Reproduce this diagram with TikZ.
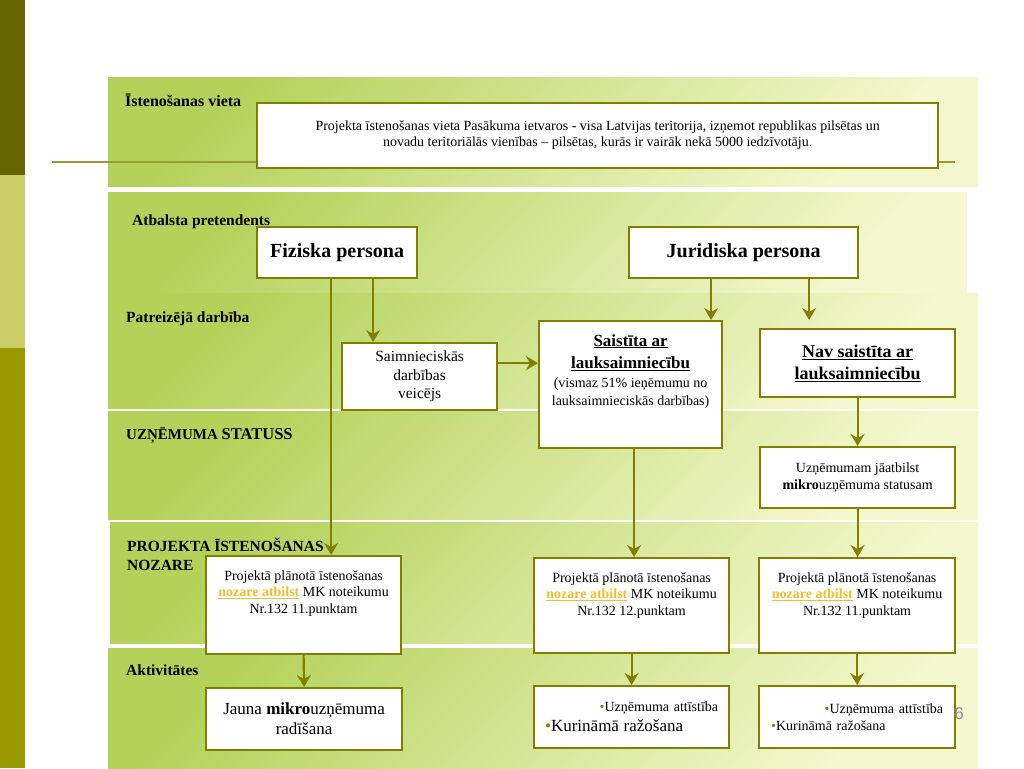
\documentclass[tikz,border=0pt]{standalone}
\usepackage{fontspec}
\setmainfont{Liberation Serif}
\newfontfamily\numfont{Liberation Sans}
\usepackage{tikz}
\usetikzlibrary{arrows.meta,positioning,calc}
\definecolor{sidedark}{HTML}{666600}
\definecolor{sidelight}{HTML}{CCCC66}
\definecolor{sideolive}{HTML}{999900}
\definecolor{bandgreen}{HTML}{B4D25A}
\definecolor{bandpale}{HTML}{F4F8CE}
\definecolor{edge}{HTML}{808000}
\definecolor{rulecol}{HTML}{9A9A30}
\definecolor{gold}{HTML}{F2BF2A}
\definecolor{pagegray}{HTML}{8C8C8C}
\newcommand{\fsz}[2]{\fontsize{#1}{#2}\selectfont}
\newcommand{\goldul}[1]{\textcolor{gold}{\underline{\textbf{#1}}}}
\newcommand{\dotb}{\textcolor{edge}{\textbullet}}

\begin{document}
\begin{tikzpicture}[x=1pt, y=-1pt,
  band/.style={top color=bandgreen, bottom color=bandpale, shading angle=45},
  bandlabel/.style={anchor=base west, inner sep=0pt, font=\bfseries\fsz{15.5}{19}, align=left},
  box/.style={rectangle, draw=edge, line width=2.2pt, fill=white, align=center, inner sep=4pt, anchor=north west},
  topbox/.style={box, text height=53pt, text depth=#1},
  arrow/.style={-{Stealth[length=12pt, width=14pt, inset=4pt]}, line width=2.2pt, draw=edge}
]
\useasboundingbox (0,0) rectangle (1024,768);

% side bar
\fill[sidedark] (0,0) rectangle (25,175);
\fill[sidelight] (0,175) rectangle (25,348);
\fill[sideolive] (0,348) rectangle (25,768);

% bands
\shade[band] (108,77) rectangle (978,186);
\shade[band] (108,192) rectangle (967,293);
\shade[band] (108,293) rectangle (978,408);
\shade[band] (108,411) rectangle (978,519);
\shade[band] (110,522) rectangle (978,643);
\shade[band] (108,648) rectangle (978,768);
\draw[rulecol, line width=2pt] (52,162) -- (955,162);

% band titles
\node[bandlabel, font=\bfseries\fsz{16}{19}] (lvieta) at (125,106) {Īstenošanas vieta};
\node[bandlabel] (lpret) at (132,225) {Atbalsta pretendents};
\node[bandlabel] (ldarb) at (126,322) {Patreizējā darbība};
\node[bandlabel] (lstat) at (126,439) {{\fsz{15}{19}UZŅĒMUMA} {\fsz{16.5}{19}STATUSS}};
\node[bandlabel, anchor=north west] (lnoz) at (127,538) {PROJEKTA ĪSTENOŠANAS\\NOZARE};
\node[bandlabel] (lakt) at (126,675) {Aktivitātes};

% boxes
\node[box, minimum width=681, minimum height=65, font=\fsz{14}{16}] (vieta) at (256,102)
  {Projekta īstenošanas vieta Pasākuma ietvaros - visa Latvijas teritorija, izņemot republikas pilsētas un\\
   novadu teritoriālās vienības – pilsētas, kurās ir vairāk nekā 5000 iedzīvotāju.};
\node[box, minimum width=160, minimum height=51, font=\bfseries\fsz{20}{24}] (fiz) at (256,226) {Fiziska persona};
\node[box, minimum width=229, minimum height=51, font=\bfseries\fsz{20}{24}] (jur) at (628,226) {Juridiska persona};
\node[box, minimum width=155, minimum height=67, font=\fsz{15.5}{18.5}] (saim) at (341,342) {Saimnieciskās\\darbības\\veicējs};
\node[topbox=39pt, text height=80pt, minimum width=183, minimum height=127, font=\bfseries\fsz{17}{22}] (sais) at (538,320)
  {\underline{Saistīta ar}\\\underline{lauksaimniecību}\\[-3pt]
   {\mdseries\fsz{14}{17}(vismaz 51\% ieņēmumu no}\\[-4pt]
   {\mdseries\fsz{14}{17}lauksaimnieciskās darbības)}};
\node[box, minimum width=195, minimum height=68, font=\bfseries\fsz{18}{22}] (nav) at (759,328)
  {\underline{Nav saistīta ar}\\\underline{lauksaimniecību}};
\node[box, minimum width=195, minimum height=61, font=\fsz{14}{17}] (uzn) at (759,446)
  {Uzņēmumam jāatbilst\\\textbf{mikro}uzņēmuma statusam};
\node[topbox=37pt, minimum width=195, minimum height=98, font=\fsz{14}{16.5}] (proj1) at (205,555)
  {Projektā plānotā īstenošanas\\\goldul{nozare atbilst} MK noteikumu\\Nr.132 11.punktam};
\node[topbox=34pt, minimum width=195, minimum height=95, font=\fsz{14}{16.5}] (proj2) at (533,557)
  {Projektā plānotā īstenošanas\\\goldul{nozare atbilst} MK noteikumu\\Nr.132 12.punktam};
\node[topbox=34pt, minimum width=196, minimum height=95, font=\fsz{14}{16.5}] (proj3) at (758,557)
  {Projektā plānotā īstenošanas\\\goldul{nozare atbilst} MK noteikumu\\Nr.132 11.punktam};
\node[box, minimum width=196, minimum height=62, font=\fsz{17}{20}] (jauna) at (205,687)
  {Jauna \textbf{mikro}uzņēmuma\\radīšana};
\node[box, minimum width=195, minimum height=62, text width=173, align=left, font=\fsz{14}{20}] (act2) at (533,685)
  {\hfill\dotb Uzņēmuma attīstība\\{\fsz{17}{20}\dotb Kurināmā ražošana}};
\node[box, minimum width=196, minimum height=62, text width=172, align=left, font=\fsz{14}{17}] (act3) at (758,685)
  {\hfill\dotb Uzņēmuma attīstība\\\dotb Kurināmā ražošana};

\node[font=\numfont\fsz{17}{20}, text=pagegray, inner sep=0pt] (pgnum) at (959,714) {6};

% connectors
\coordinate (fizL) at ([xshift=-6]fiz.south);
\coordinate (fizR) at ([xshift=36]fiz.south);
\coordinate (saimR) at ([yshift=13.5]saim.east);
\coordinate (jurL) at ([xshift=-32.5]jur.south);
\coordinate (jurR) at ([xshift=65.5]jur.south);
\coordinate (saisB) at ([xshift=3.5]sais.south);

\draw[arrow] (fizR) -- (fizR |- saim.north);
\draw[arrow] (fizL) -- (fizL |- proj1.north);
\draw[arrow] (saimR) -- (saimR -| sais.west);
\draw[arrow] (jurL) -- (jurL |- sais.north);
\draw[arrow, shorten >=8pt] (jurR) -- (jurR |- nav.north);
\draw[arrow] (nav.south) -- (uzn.north);
\draw[arrow] (saisB) -- (saisB |- proj2.north);
\draw[arrow] (uzn.south) -- (uzn.south |- proj3.north);
\draw[arrow] (proj1.south) -- (jauna.north);
\draw[arrow] (proj2.south) -- (act2.north);
\draw[arrow] (proj3.south) -- (act3.north);
\end{tikzpicture}
\end{document}
